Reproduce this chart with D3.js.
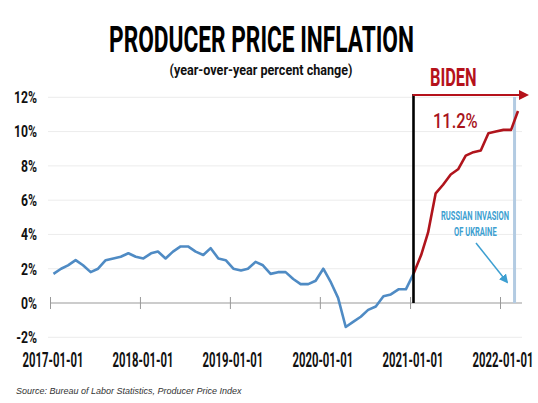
<!DOCTYPE html>
<html><head><meta charset="utf-8">
<script src="https://cdn.jsdelivr.net/npm/d3@7"></script>
<style>
html,body{margin:0;padding:0;background:#fff;}
svg{display:block;}
.cond{font-family:Roboto,"DejaVu Sans",sans-serif;font-weight:bold;}
</style></head>
<body>
<svg id="c" width="538" height="403"></svg>
<script>
// ---- data ----
const months = [
 "2017-01","2017-02","2017-03","2017-04","2017-05","2017-06","2017-07","2017-08","2017-09","2017-10","2017-11","2017-12",
 "2018-01","2018-02","2018-03","2018-04","2018-05","2018-06","2018-07","2018-08","2018-09","2018-10","2018-11","2018-12",
 "2019-01","2019-02","2019-03","2019-04","2019-05","2019-06","2019-07","2019-08","2019-09","2019-10","2019-11","2019-12",
 "2020-01","2020-02","2020-03","2020-04","2020-05","2020-06","2020-07","2020-08","2020-09","2020-10","2020-11","2020-12",
 "2021-01","2021-02","2021-03","2021-04","2021-05","2021-06","2021-07","2021-08","2021-09","2021-10","2021-11","2021-12",
 "2022-01","2022-02","2022-03"];
const ppiValues = [
 1.7,2.0,2.2,2.5,2.2,1.8,2.0,2.5,2.6,2.7,2.9,2.7,
 2.6,2.9,3.0,2.6,3.0,3.3,3.3,3.0,2.8,3.2,2.6,2.5,
 2.0,1.9,2.0,2.4,2.2,1.7,1.8,1.8,1.4,1.1,1.1,1.3,
 2.0,1.2,0.3,-1.4,-1.1,-0.8,-0.4,-0.2,0.4,0.5,0.8,0.8,
 1.7,2.8,4.1,6.4,6.9,7.5,7.8,8.6,8.8,8.9,9.9,10.0,
 10.1,10.1,11.2];
const bidenStart = "2021-01";
const invasionDate = "2022-03-01";
const yTicks = [-2,0,2,4,6,8,10,12];
const xTicks = ["2017-01-01","2018-01-01","2019-01-01","2020-01-01","2021-01-01","2022-01-01"];
const titleText = "PRODUCER PRICE INFLATION";
const subtitleText = "(year-over-year percent change)";
const sourceText = "Source: Bureau of Labor Statistics, Producer Price Index";

// ---- setup ----
const svg = d3.select("#c");
const parseDay = d3.timeParse("%Y-%m-%d");
const mid = m => parseDay(m + "-15");
const data = months.map((m,i)=>({m, date: mid(m), v: ppiValues[i]}));
const bi = months.indexOf(bidenStart);
const blueData = data.slice(0, bi+1);
const redData = data.slice(bi);

const x = d3.scaleTime().domain([parseDay("2017-01-01"), parseDay("2022-01-01")]).range([50, 500]);
const y = d3.scaleLinear().domain([-2, 12]).range([337.3, 97.3]);

const defs = svg.append("defs");
defs.append("marker").attr("id","ar").attr("viewBox","0 0 10 10").attr("refX",8).attr("refY",5)
  .attr("markerWidth",5).attr("markerHeight",5).attr("orient","auto").attr("markerUnits","strokeWidth")
  .append("path").attr("d","M0,0L10,5L0,10z").attr("fill","#b5121b");
defs.append("marker").attr("id","ab").attr("viewBox","0 0 10 10").attr("refX",8).attr("refY",5)
  .attr("markerWidth",6).attr("markerHeight",6).attr("orient","auto").attr("markerUnits","strokeWidth")
  .append("path").attr("d","M0,0L10,5L0,10z").attr("fill","#3d9fd1");

// condensed text: drawn at natural size then squeezed horizontally to a target width
function condText(parent, txt, px, py, anchor, size, width, fill, weight){
  const t = parent.append("text").attr("class","cond").attr("x",0).attr("y",0)
    .attr("text-anchor",anchor).attr("font-size",size).attr("fill",fill).text(txt);
  if (weight) t.style("font-weight", weight);
  const nat = t.node().getComputedTextLength();
  const w = typeof width === "function" ? width(nat) : width;
  t.attr("transform",`translate(${px},${py}) scale(${w/nat},1)`);
  return t;
}

// gridlines
svg.append("g").selectAll("line").data(yTicks.filter(t=>t!==0)).join("line")
  .attr("x1",48).attr("x2",522).attr("y1",d=>y(d)).attr("y2",d=>y(d))
  .attr("stroke","#ececec").attr("stroke-width",1);

// y labels
const gy = svg.append("g");
yTicks.forEach(t => condText(gy, t+"%", 37, y(t)+5.8, "end", 16.5, n=>n*0.74, "#111"));

// x axis at zero
const xAxis = d3.axisBottom(x).tickValues(xTicks.map(parseDay)).tickSize(6).tickFormat("");
const gx = svg.append("g").attr("transform",`translate(0,${y(0)})`).call(xAxis);
gx.select(".domain").remove();
gx.selectAll(".tick line").attr("y1",-6).attr("stroke","#999");
svg.append("line").attr("x1",50).attr("x2",522).attr("y1",y(0)).attr("y2",y(0)).attr("stroke","#999").attr("stroke-width",1);

// x labels
const gxl = svg.append("g");
xTicks.forEach(d => condText(gxl, d, x(parseDay(d))+3, 366.5, "middle", 21, 61, "#111"));

// invasion vertical line
svg.append("line").attr("x1",x(parseDay(invasionDate))).attr("x2",x(parseDay(invasionDate)))
  .attr("y1",97).attr("y2",y(0)).attr("stroke","#b3cbe2").attr("stroke-width",3);

// lines
const line = d3.line().x(d=>x(d.date)).y(d=>y(d.v));
svg.append("path").datum(blueData).attr("d",line).attr("fill","none")
  .attr("stroke","#4f8bc4").attr("stroke-width",2.6).attr("stroke-linejoin","round");
svg.append("path").datum(redData).attr("d",line).attr("fill","none")
  .attr("stroke","#b0141c").attr("stroke-width",2.6).attr("stroke-linejoin","round");

// Biden start vertical
const bx = x(mid(bidenStart));
svg.append("line").attr("x1",bx).attr("x2",bx).attr("y1",94).attr("y2",y(0))
  .attr("stroke","#000").attr("stroke-width",2.6);
// red arrow
svg.append("line").attr("x1",bx-1).attr("x2",527).attr("y1",95).attr("y2",95)
  .attr("stroke","#b5121b").attr("stroke-width",2).attr("marker-end","url(#ar)");

// texts
condText(svg, titleText, 261.5, 51.5, "middle", 37, 305, "#000");
condText(svg, subtitleText, 261, 75, "middle", 15.5, 183, "#111");
condText(svg, "BIDEN", 453.3, 86, "middle", 26.5, 46.7, "#b5121b");
const last = data[data.length-1];
condText(svg, last.v.toFixed(1)+"%", 455.3, 128, "middle", 21, 44.7, "#a8141c", "500");
condText(svg, "RUSSIAN INVASION", 475, 219.5, "middle", 12, 68, "#3d9fd1");
condText(svg, "OF UKRAINE", 475.3, 236, "middle", 12, 42.7, "#3d9fd1");
svg.append("line").attr("x1",476).attr("y1",243).attr("x2",507).attr("y2",282)
  .attr("stroke","#3d9fd1").attr("stroke-width",1.5).attr("marker-end","url(#ab)");

svg.append("text").attr("x",16).attr("y",394).attr("font-family","'Liberation Sans',Arial,sans-serif")
  .attr("font-style","italic").attr("font-size",9).attr("fill","#333").text(sourceText);
</script>
</body></html>
